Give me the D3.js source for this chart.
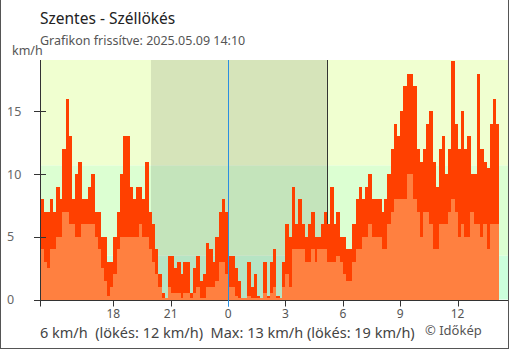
<!DOCTYPE html>
<html>
<head>
<meta charset="utf-8">
<script src="https://cdn.jsdelivr.net/npm/d3@7"></script>
<style>
  body { margin: 0; background: #fff; }
  svg { display: block; font-family: "Noto Sans", sans-serif; }
</style>
</head>
<body>
<svg id="chart" width="510" height="350"></svg>
<script>
// 10-minute samples from 14:10 (previous day) to 14:10, hours relative to midnight
const startHour = -(9 + 50 / 60);
const stepHours = 10 / 60;

// gust speed, km/h
const gust = [
  8, 7, 7, 8, 7, 9, 8, 12, 16, 13, 8, 10, 11, 8, 8, 9, 10, 7, 7, 5, 5, 3, 3, 5, 7, 10, 13, 13, 9, 8, 9,
  9, 8, 11, 7, 6, 4, 2, 0.5, 0, 3.5, 3.5, 2.5, 3, 2, 3, 3, 0.5, 2.5, 3.5, 1.5, 2, 4.5, 4, 3, 5, 7, 8, 7, 3.5, 3.5,
  2.5, 1.5, 0, 0, 3, 1, 2, 0.3, 0, 3, 0.3, 3, 4, 0.3, 0, 3, 6, 5, 9, 6, 8, 6, 5, 6, 7, 5, 5, 6, 7, 6,
  9, 6, 7, 5, 5, 4, 4, 6, 8, 9, 8, 9, 10, 8, 8, 8, 7, 8, 10, 12, 14, 13, 15, 17, 18, 18, 17, 12, 11, 12, 14,
  15, 11, 9, 12, 13, 10, 12, 19, 14, 12, 15, 12, 13, 10, 10, 18, 12, 11, 10.5, 14, 16, 14
];

// mean wind speed, km/h
const mean = [
  4, 3, 2.5, 4, 4, 5, 5, 7, 7, 6, 6, 5, 5, 6, 6, 6, 6, 5, 4, 2.5, 1.5, 0.3, 1, 2, 4, 5, 5, 5, 5, 5, 5,
  6, 5, 5, 4, 3, 2, 1, 0, 0, 1, 0.5, 0.5, 0.5, 0, 0.5, 0.5, 0, 0.5, 1, 0, 0, 1, 1, 1, 1.5, 3, 3, 2, 1, 1,
  0.3, 0, 0, 0, 0.3, 0, 0, 0, 0, 0.5, 0, 0.5, 1, 0, 0, 1, 2, 1, 4, 4, 4, 4, 3, 3, 4, 3, 4, 4, 4, 3,
  3, 3, 3.5, 3, 2, 1.5, 1.5, 3, 4, 4, 5, 5, 6, 5, 5, 5, 4, 4, 6, 7, 8, 8, 8, 8, 10, 10, 8, 7, 5, 7, 7,
  6, 4, 4, 6, 6, 6, 7, 8, 7, 5, 6, 5, 5, 7, 6, 6, 5, 6, 4, 6, 6, 6
];

const hourTicks = [-6, -3, 0, 3, 6, 9, 12];
const speedTicks = [0, 5, 10, 15];
const bandEdges = [0, 3.5, 10.7, 19.1];
const bandColors = ["#ccffdc", "#dcffd2", "#f0ffd0"];
const sunset = -(4 + 2 / 60);
const sunrise = 5 + 10 / 60;

const svg = d3.select("#chart");
const plotLeft = 40, plotRight = 508, plotTop = 60, plotBottom = 299.5;

const x = d3.scaleLinear().domain([startHour, 14 + 38 / 60]).range([plotLeft, plotRight]);
const y = d3.scaleLinear().domain([0, 19.1]).range([plotBottom, plotTop]);

// speed bands
svg.append("g").selectAll("rect")
  .data(d3.pairs(bandEdges))
  .join("rect")
  .attr("x", plotLeft).attr("width", plotRight - plotLeft)
  .attr("y", d => y(d[1])).attr("height", d => y(d[0]) - y(d[1]))
  .attr("fill", (d, i) => bandColors[i]);

// night
svg.append("rect")
  .attr("x", x(sunset)).attr("width", x(sunrise) - x(sunset))
  .attr("y", plotTop).attr("height", plotBottom - plotTop)
  .attr("fill", "rgba(0,0,0,0.105)");

// sunrise marker
svg.append("line")
  .attr("x1", Math.round(x(sunrise)) + 0.5).attr("x2", Math.round(x(sunrise)) + 0.5)
  .attr("y1", plotTop).attr("y2", plotBottom)
  .attr("stroke", "#333").attr("stroke-width", 1);

const barX = i => x(startHour + i * stepHours);
const barW = x(startHour + stepHours) - x(startHour);

svg.append("g").attr("shape-rendering", "crispEdges").selectAll("rect")
  .data(gust)
  .join("rect")
  .attr("x", (d, i) => barX(i)).attr("width", barW + 0.4)
  .attr("y", d => y(d)).attr("height", d => plotBottom - y(d))
  .attr("fill", "#ff4000");

svg.append("g").attr("shape-rendering", "crispEdges").selectAll("rect")
  .data(mean)
  .join("rect")
  .attr("x", (d, i) => barX(i)).attr("width", barW + 0.4)
  .attr("y", d => Math.min(y(d), plotBottom - 1.5)).attr("height", d => Math.max(plotBottom - y(d), 1.5))
  .attr("fill", "#ff8040");

// axes
const axisColor = "#333";
svg.append("line")
  .attr("x1", plotLeft + 0.5).attr("x2", plotLeft + 0.5).attr("y1", plotTop).attr("y2", plotBottom + 7)
  .attr("stroke", axisColor);
svg.append("line")
  .attr("x1", plotLeft - 6).attr("x2", plotRight).attr("y1", plotBottom + 1).attr("y2", plotBottom + 1)
  .attr("stroke", axisColor);

const yt = svg.append("g");
yt.selectAll("line").data(speedTicks).join("line")
  .attr("x1", plotLeft - 6).attr("x2", plotLeft + 6)
  .attr("y1", d => Math.round(y(d)) + 0.5).attr("y2", d => Math.round(y(d)) + 0.5)
  .attr("stroke", axisColor);
yt.selectAll("text").data(speedTicks).join("text")
  .attr("x", 7).attr("y", d => y(d) + 4.5)
  .attr("font-size", 12.5).attr("fill", "#666")
  .text(d => d);

const xt = svg.append("g");
xt.selectAll("line").data(hourTicks).join("line")
  .attr("x1", d => Math.round(x(d)) + 0.5).attr("x2", d => Math.round(x(d)) + 0.5)
  .attr("y1", plotBottom + 1).attr("y2", plotBottom + 7)
  .attr("stroke", d => d === 0 ? "#2a8ee0" : axisColor);
xt.selectAll("text").data(hourTicks).join("text")
  .attr("x", d => x(d)).attr("y", 318)
  .attr("text-anchor", "middle").attr("font-size", 12).attr("fill", "#555")
  .text(d => ((d % 24) + 24) % 24);

// midnight
svg.append("line")
  .attr("x1", Math.round(x(0)) + 0.5).attr("x2", Math.round(x(0)) + 0.5)
  .attr("y1", plotTop).attr("y2", plotBottom + 7)
  .attr("stroke", "#2a8ee0").attr("stroke-width", 1);

// texts
svg.append("text").attr("x", 40).attr("y", 24)
  .attr("font-size", 15.5).attr("fill", "#222").text("Szentes - Széllökés");
svg.append("text").attr("x", 40).attr("y", 45)
  .attr("font-size", 12.5).attr("fill", "#555").text("Grafikon frissítve: 2025.05.09 14:10");
svg.append("text").attr("x", 12).attr("y", 55)
  .attr("font-size", 12.5).attr("fill", "#555").text("km/h");
svg.append("text").attr("x", 40).attr("y", 338)
  .attr("font-size", 14.5).attr("fill", "#444").style("white-space", "pre")
  .text("6 km/h  (lökés: 12 km/h)  Max: 13 km/h (lökés: 19 km/h)");
svg.append("text").attr("x", 425).attr("y", 335)
  .attr("font-size", 13).attr("fill", "#555").text("© Időkép");

// frame
svg.append("rect").attr("x", 0.5).attr("y", -2).attr("width", 508).attr("height", 350.5)
  .attr("fill", "none").attr("stroke", "#555");
</script>
</body>
</html>
